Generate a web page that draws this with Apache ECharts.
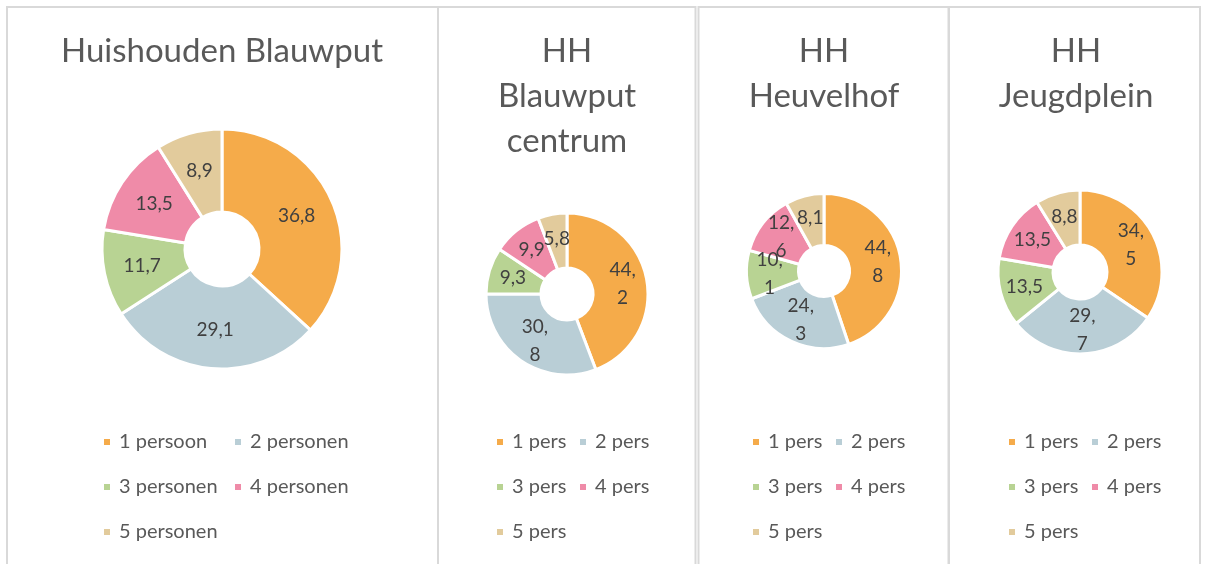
<!DOCTYPE html>
<html>
<head>
<meta charset="utf-8">
<script src="https://cdn.jsdelivr.net/npm/echarts@6/dist/echarts.min.js"></script>
<style>
  html, body { margin: 0; padding: 0; background: #fff; }
  #main { width: 1208px; height: 564px; }
</style>
</head>
<body>
<div id="main"></div>
<script>
// categories
var catsLong = ['1 persoon', '2 personen', '3 personen', '4 personen', '5 personen'];
var catsShort = ['1 pers', '2 pers', '3 pers', '4 pers', '5 pers'];

// percentages per wijk
var valsBlauwput = [36.8, 29.1, 11.7, 13.5, 8.9];
var valsCentrum = [44.2, 30.8, 9.3, 9.9, 5.8];
var valsHeuvelhof = [44.8, 24.3, 10.1, 12.6, 8.1];
var valsJeugdplein = [34.5, 29.7, 13.5, 13.5, 8.8];

var titles = ['Huishouden Blauwput', 'HH\nBlauwput\ncentrum', 'HH\nHeuvelhof', 'HH\nJeugdplein'];

var colors = ['#F5AB4A', '#B9CED6', '#B8D393', '#EF8BA8', '#E2CB9C'];
var FONT = 'Lato, sans-serif';

// layout per panel
var panels = [
  { box: [7, 7, 431, 620], cx: 222, pie: [222, 249], r: [37, 120], legX: [102, 233], wrapAt: 1000, cats: catsLong, vals: valsBlauwput },
  { box: [438, 7, 257.5, 620], cx: 567, pie: [567, 294], r: [26, 81], legX: [495, 578], wrapAt: 20, cats: catsShort, vals: valsCentrum },
  { box: [698.5, 7, 250, 620], cx: 824, pie: [824, 271], r: [25.5, 77.5], legX: [751, 834], wrapAt: 10, cats: catsShort, vals: valsHeuvelhof },
  { box: [949, 7, 251, 620], cx: 1076, pie: [1080, 272], r: [27, 82], legX: [1007, 1090], wrapAt: 20, cats: catsShort, vals: valsJeugdplein }
];
var legRows = [443, 488, 533];

var graphic = [];
var series = [];
var legends = [];

function fmt(wrapAt) {
  return function (d) {
    var s = d.value.toFixed(1).replace('.', ',');
    if (d.value >= wrapAt) s = s.replace(',', ',\n');
    return s;
  };
}

panels.forEach(function (p, i) {
  graphic.push({
    type: 'rect', silent: true,
    shape: { x: p.box[0], y: p.box[1], width: p.box[2], height: p.box[3] },
    style: { fill: '#fff', stroke: '#D9D9D9', lineWidth: 2 }
  });
  graphic.push({
    type: 'text', silent: true, z: 10,
    x: p.cx, y: 29,
    style: {
      text: titles[i], fill: '#595959', font: '33px ' + FONT,
      align: 'center', verticalAlign: 'top', lineHeight: 45
    }
  });

  series.push({
    type: 'pie',
    center: p.pie,
    radius: p.r,
    startAngle: 90,
    clockwise: true,
    avoidLabelOverlap: false,
    minShowLabelAngle: 0,
    labelLayout: { hideOverlap: false },
    label: {
      show: true,
      position: 'inside',
      color: '#404040',
      fontFamily: FONT,
      fontSize: 19,
      lineHeight: 28,
      formatter: fmt(p.wrapAt)
    },
    labelLine: { show: false },
    itemStyle: { borderColor: '#fff', borderWidth: 3 },
    emphasis: { disabled: true },
    data: p.cats.map(function (c, k) {
      return { name: c, value: p.vals[k], itemStyle: { color: colors[k] } };
    })
  });

  p.cats.forEach(function (c, k) {
    legends.push({
      data: [c],
      left: p.legX[k % 2],
      top: legRows[Math.floor(k / 2)] - 11,
      itemWidth: 8,
      itemHeight: 8,
      icon: 'rect',
      selectedMode: false,
      padding: 0,
      textStyle: { color: '#595959', fontFamily: FONT, fontSize: 20, padding: [0, 0, 0, 3] }
    });
  });
});

var chart = echarts.init(document.getElementById('main'));
chart.setOption({
  backgroundColor: '#fff',
  animation: false,
  color: colors,
  graphic: graphic,
  legend: legends,
  series: series
});
</script>
</body>
</html>
